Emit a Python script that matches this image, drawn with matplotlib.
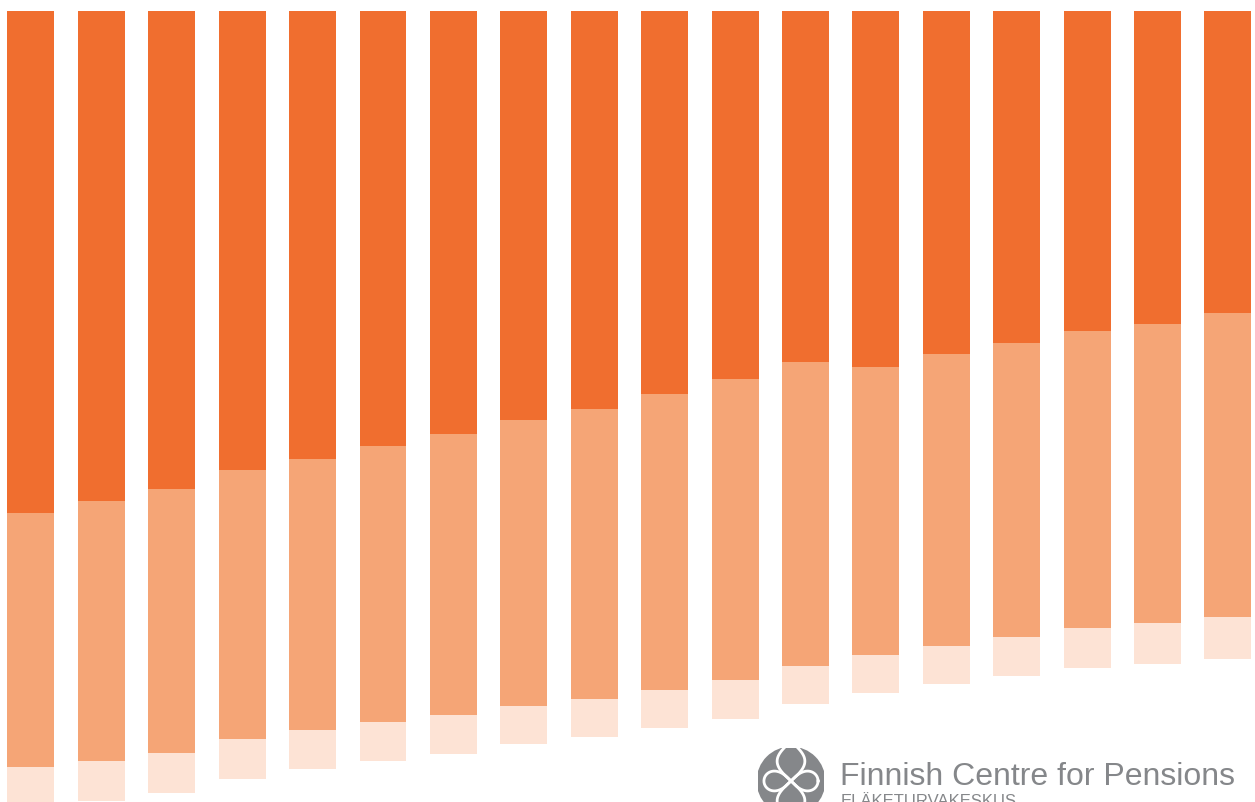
import numpy as np
import matplotlib
matplotlib.use("Agg")
from matplotlib import pyplot as plt
from matplotlib.patches import Circle

# segment heights, top (dark) -> bottom (light), bars hang from the top
dark = [502, 490, 478, 459, 448, 435, 423, 409, 398, 383, 368, 351, 356, 343, 332, 320, 313, 302]
medium = [254, 260, 264, 269, 271, 276, 281, 286, 290, 296, 301, 304, 288, 292, 294, 297, 299, 304]
light = [38, 40, 40, 40, 39, 39, 39, 38, 38, 38, 39, 38, 38, 38, 39, 40, 41, 42]

DARK = '#F06E2F'
MEDIUM = '#F5A576'
LIGHT = '#FDE3D5'
GREY = '#85878A'

W, H = 1255, 803
fig = plt.figure(figsize=(W / 100, H / 100), dpi=100)
ax = fig.add_axes([0, 0, 1, 1])

x = np.arange(len(dark))
dark = np.array(dark)
medium = np.array(medium)
light = np.array(light)

ax.bar(x, dark, width=0.667, color=DARK, linewidth=0)
ax.bar(x, medium, width=0.667, bottom=dark, color=MEDIUM, linewidth=0)
ax.bar(x, light, width=0.667, bottom=dark + medium, color=LIGHT, linewidth=0)

ax.set_xlim(-0.44, 17.385)
ax.set_ylim(791.5, -11.5)
ax.axis('off')

# logo
lax = fig.add_axes([758 / W, -12 / H, 66 / W, 66 / H])
lax.set_xlim(-1, 1)
lax.set_ylim(-1, 1)
lax.axis('off')
lax.add_patch(Circle((0, 0), 0.98, color=GREY, linewidth=0))
t = np.linspace(0, 2 * np.pi, 200)
# horizontal loops
lx = 0.82 * np.cos(t) / (1 + np.sin(t) ** 2)
ly = 0.85 * np.sin(t) * np.cos(t) / (1 + np.sin(t) ** 2)
lax.plot(lx, ly, color='white', lw=2.0)
yy = np.linspace(-1.2, 1.2, 100)
for s in (1, -1):
    lax.plot(s * 0.42 * np.sin(np.pi * yy / 1.2), yy, color='white', lw=2.0)
lax.add_patch(Circle((0, 0), 0.98, fill=False, edgecolor=GREY, linewidth=3))

fam = ['Liberation Sans Narrow', 'Liberation Sans', 'DejaVu Sans']
fig.text(840 / W, 1 - 785 / H, 'Finnish Centre for Pensions', fontsize=23,
         color=GREY, family=fam, va='baseline', ha='left')
fig.text(841 / W, 1 - 806 / H, 'ELÄKETURVAKESKUS', fontsize=12,
         color=GREY, family=fam, va='baseline', ha='left')

fig.savefig('out.png', dpi=100)
